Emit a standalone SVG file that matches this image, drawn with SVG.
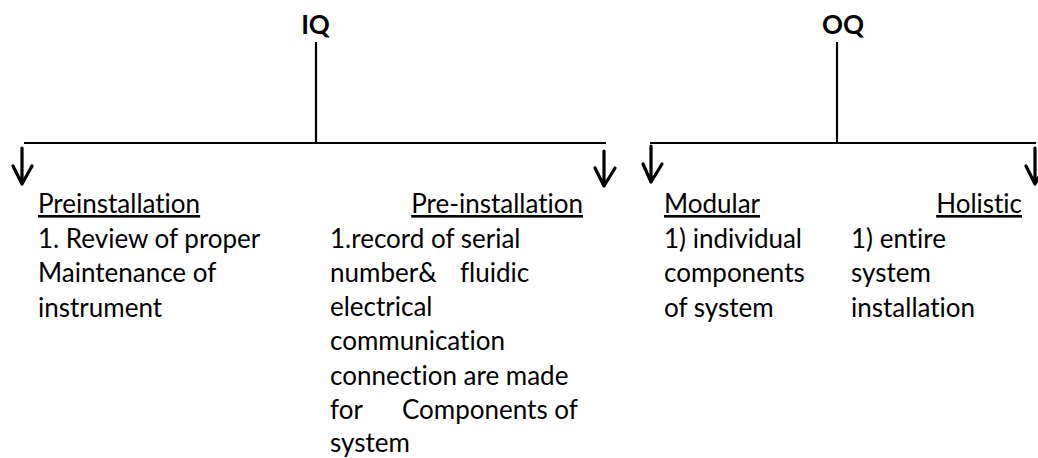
<svg xmlns="http://www.w3.org/2000/svg" width="1038" height="458" viewBox="0 0 1038 458">
<style>
  .t { font-family: Lato, "Open Sans", sans-serif; font-size: 26px; fill: #000; font-variant-ligatures: none; }
  .h { font-family: Lato, "Open Sans", sans-serif; font-size: 26px; font-weight: bold; fill: #000; }
  .u { text-decoration: underline; }
  .ln { stroke: #000; stroke-width: 2.2; fill: none; }
  .ar { stroke: #000; stroke-width: 3.2; fill: none; stroke-linecap: round; stroke-linejoin: round; }
</style>
<rect width="1038" height="458" fill="#fff"/>
<g id="connectors">
  <line class="ln" x1="316" y1="42" x2="316" y2="143"/>
  <line class="ln" x1="24" y1="143" x2="606" y2="143"/>
  <line class="ln" x1="837" y1="42" x2="837" y2="143"/>
  <line class="ln" x1="650" y1="143" x2="1036" y2="143"/>
  <path class="ar" d="M22 148 V184 M13 166 L22 184 L32 166"/>
  <path class="ar" d="M604 151 V186 M595 168 L604 186 L615 168"/>
  <path class="ar" d="M651 146 V182 M643 164 L651 182 L662 164"/>
  <path class="ar" d="M1035 148 V184 M1026 166 L1035 184 L1045 166"/>
</g>
<g id="node-iq"><text class="h" x="315.5" y="34" text-anchor="middle">IQ</text></g>
<g id="node-oq"><text class="h" x="843" y="34" text-anchor="middle">OQ</text></g>
<g id="node-preinstallation">
  <text class="t u" x="38" y="213">Preinstallation</text>
  <text class="t" x="38" y="248">1. Review of proper</text>
  <text class="t" x="38" y="282">Maintenance of</text>
  <text class="t" x="38" y="317">instrument</text>
</g>
<g id="node-pre-installation">
  <text class="t u" x="583" y="213" text-anchor="end">Pre-installation</text>
  <text class="t" x="330" y="248">1.record of serial</text>
  <text class="t" y="282"><tspan x="330">number&amp;</tspan><tspan x="460">fluidic</tspan></text>
  <text class="t" x="330" y="316">electrical</text>
  <text class="t" x="330" y="350">communication</text>
  <text class="t" x="330" y="385">connection are made</text>
  <text class="t" y="419"><tspan x="330">for</tspan><tspan x="402">Components of</tspan></text>
  <text class="t" x="330" y="452">system</text>
</g>
<g id="node-modular">
  <text class="t u" x="664" y="213">Modular</text>
  <text class="t" x="664" y="248">1) individual</text>
  <text class="t" x="664" y="282">components</text>
  <text class="t" x="664" y="317">of system</text>
</g>
<g id="node-holistic">
  <text class="t u" x="1022" y="213" text-anchor="end">Holistic</text>
  <text class="t" x="851" y="248">1) entire</text>
  <text class="t" x="851" y="282">system</text>
  <text class="t" x="851" y="317">installation</text>
</g>
</svg>
